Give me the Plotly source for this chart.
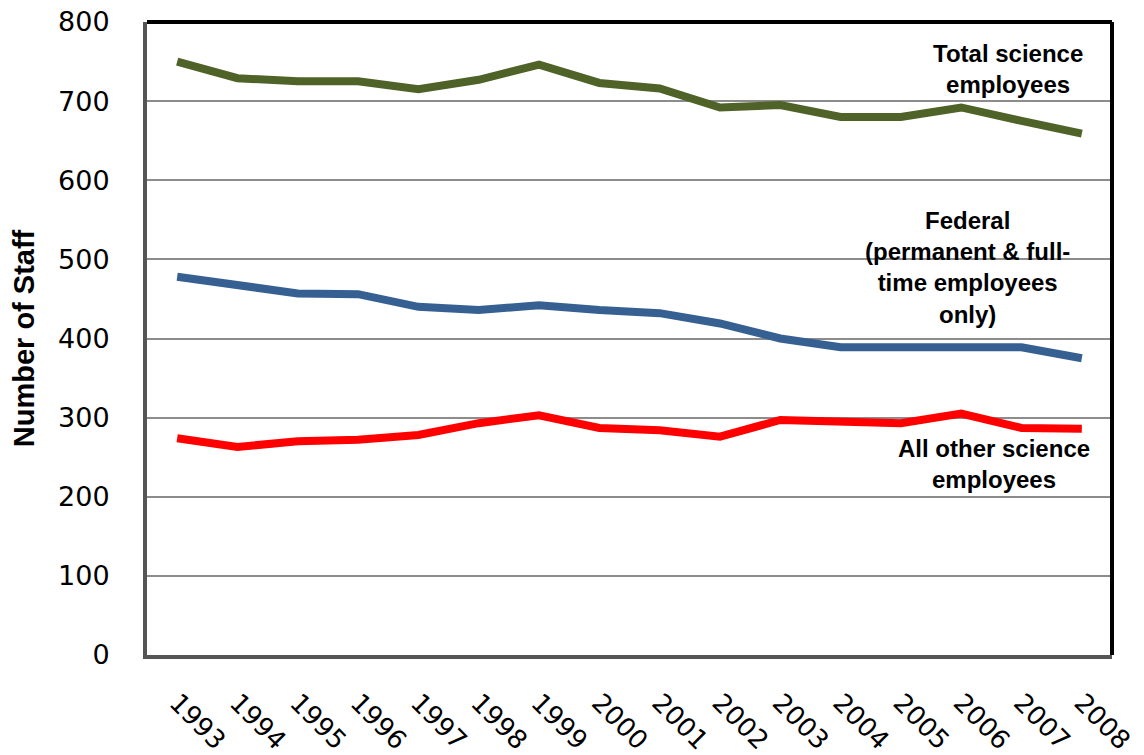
import plotly.graph_objects as go

# yillar ve seriler
years = [str(y) for y in range(1993, 2009)]
total_science = [750, 729, 725, 725, 715, 727, 746, 723, 716, 692, 695, 680, 680, 692, 675, 659]
federal = [478, 468, 457, 456, 440, 436, 442, 436, 432, 419, 400, 389, 389, 389, 389, 375]
all_other = [274, 263, 270, 272, 278, 293, 303, 287, 284, 276, 297, 294, 293, 305, 287, 286]

y_ticks = [0, 100, 200, 300, 400, 500, 600, 700, 800]

fig = go.Figure()
fig.add_trace(go.Scatter(x=years, y=total_science, mode="lines",
                         line=dict(color="#4F6228", width=8), name="Total science employees"))
fig.add_trace(go.Scatter(x=years, y=federal, mode="lines",
                         line=dict(color="#376092", width=8), name="Federal"))
fig.add_trace(go.Scatter(x=years, y=all_other, mode="lines",
                         line=dict(color="#FF0000", width=8), name="All other science employees"))

lbl_font = dict(family="Liberation Sans, Arial, sans-serif", size=24, color="black", weight="bold")
fig.add_annotation(x=13.78, y=741, text="Total science<br>employees", showarrow=False,
                   font=lbl_font, align="center")
fig.add_annotation(x=13.1, y=490, text="Federal<br>(permanent & full-<br>time employees<br>only)",
                   showarrow=False, font=lbl_font, align="center")
fig.add_annotation(x=13.55, y=241, text="All other science<br>employees", showarrow=False,
                   font=lbl_font, align="center")

# cerceve: ust ve sag siyah
fig.add_shape(type="line", xref="paper", yref="paper", x0=0, x1=1, y0=1, y1=1,
              line=dict(color="black", width=4))
fig.add_shape(type="line", xref="paper", yref="paper", x0=1, x1=1, y0=0, y1=1,
              line=dict(color="black", width=4))

# sayfa govdesinin 8px kenar boslugu hesaba katildi
fig.update_layout(
    width=1136, height=747,
    margin=dict(l=139, r=32, t=14, b=100),
    plot_bgcolor="white", paper_bgcolor="white",
    showlegend=False,
)
fig.update_xaxes(type="category", range=[-0.5, 15.5], tickangle=45, automargin=False,
                 tickfont=dict(family="DejaVu Sans", size=26, color="black"),
                 showgrid=False, showline=True, linecolor="#555", linewidth=4,
                 ticks="", ticklabelstandoff=18, ticklabeloverflow="allow")
fig.update_yaxes(range=[0, 800], tickvals=y_ticks, automargin=False,
                 tickfont=dict(family="DejaVu Sans", size=27, color="black"),
                 showgrid=True, gridcolor="#8c8c8c", gridwidth=2,
                 showline=True, linecolor="#555", linewidth=4, zeroline=False,
                 ticks="", ticklabelstandoff=28, ticklabeloverflow="allow",
                 title=dict(text="Number of Staff", standoff=32,
                            font=dict(family="Liberation Sans, Arial, sans-serif",
                                      size=29, color="black", weight="bold")))

fig.write_html("out.html")
